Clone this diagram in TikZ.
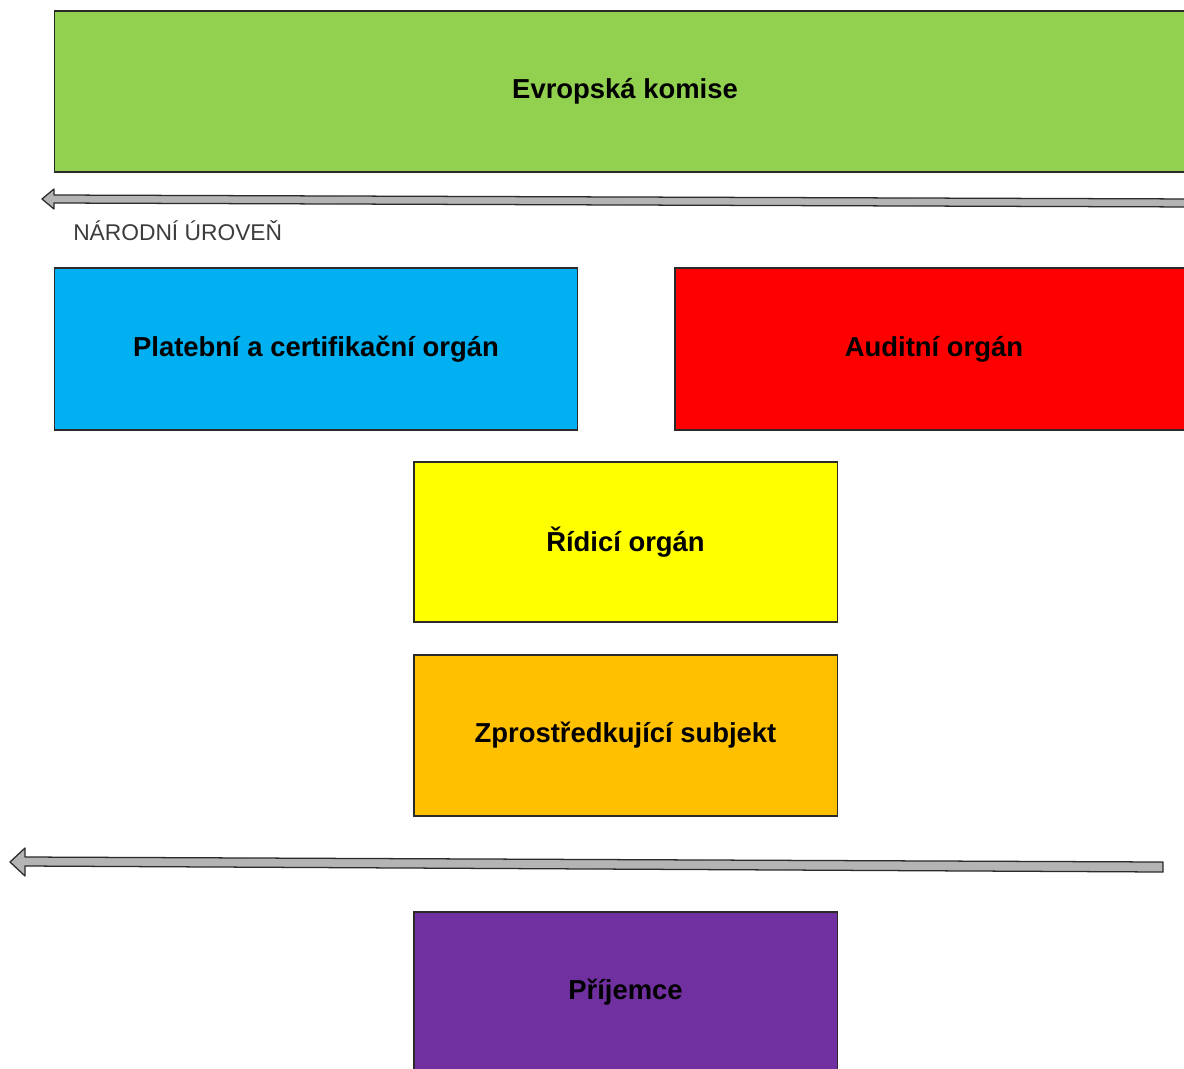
\documentclass[tikz,border=0pt]{standalone}
\usepackage{fontspec}
\setmainfont{Liberation Sans}
\usepackage{xcolor}
\definecolor{vdarkgray}{HTML}{2a2a2a}
\definecolor{vgray}{HTML}{b4b4b4}
\definecolor{vtext}{HTML}{3c3c3c}
\definecolor{vgreen}{HTML}{92d050}
\definecolor{vblue}{HTML}{00b0f0}
\definecolor{vred}{HTML}{ff0000}
\definecolor{vyellow}{HTML}{ffff00}
\definecolor{vorange}{HTML}{ffc000}
\definecolor{vpurple}{HTML}{7030a0}

\begin{document}
\begin{tikzpicture}[x=0.025cm, y=-0.025cm,
		organ/.style={draw=vdarkgray, line width=0.8pt, inner sep=0pt, font=\fontsize{19.5}{23}\selectfont\bfseries},
		level/.style={draw=vdarkgray, fill=vgray, line width=0.9pt, line join=round}]
		\clip (0,0) rectangle (1184,1068);
		\fill[white] (0,0) rectangle (1184,1068);
		\node[organ, fill=vgreen, minimum width=28.5cm, minimum height=4.025cm] (komise) at (625,91.5) {Evropská komise};
		\node[organ, fill=vblue, minimum width=13.05cm, minimum height=4.05cm] (platebni) at (316,349) {Platební a certifikační orgán};
		\node[organ, fill=vred, minimum width=12.95cm, minimum height=4.05cm] (auditni) at (934,349) {Auditní orgán};
		\node[organ, fill=vyellow, minimum width=10.575cm, minimum height=4cm] (ridici) at (625.5,542) {Řídicí orgán};
		\node[organ, fill=vorange, minimum width=10.575cm, minimum height=4.025cm] (zprostredkujici) at (625.5,735.5) {Zprostředkující subjekt};
		\node[organ, fill=vpurple, minimum width=10.575cm, minimum height=4cm] (prijemce) at (625.5,992) {Příjemce};
		\node[anchor=base west, text=vtext, inner sep=0pt, font=\fontsize{16.2}{19}\selectfont] (narodni) at (73,240) {NÁRODNÍ ÚROVEŇ};
		\coordinate (horniTip) at (42,199);
		\coordinate (dolniTip) at (10,862);
		\draw[level] (horniTip) -- (54,189) -- (54,195) -- (1200,199) -- (1200,207) -- (54,203) -- (54,209) -- cycle;
		\draw[level] (dolniTip) -- (25,848) -- (25,857) -- (1163,862) -- (1163,872) -- (25,866) -- (25,876) -- cycle;
	\end{tikzpicture}
\end{document}
